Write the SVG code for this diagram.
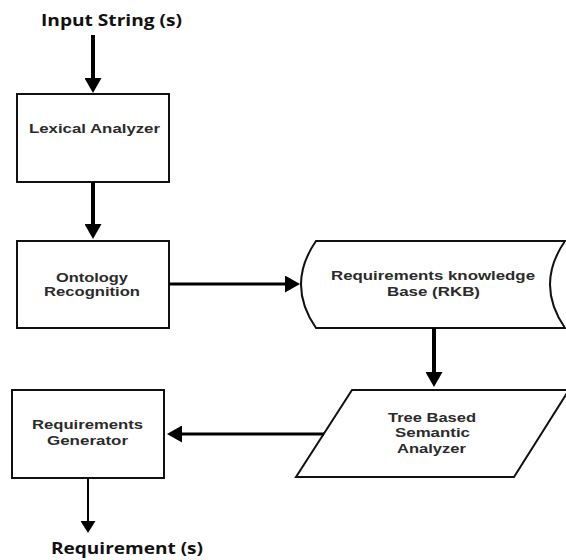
<svg xmlns="http://www.w3.org/2000/svg" width="566" height="560" viewBox="0 0 566 560">
  <style>
    .shape { fill: #ffffff; stroke: #111111; stroke-width: 2; }
    .label { font-family: "Liberation Sans", Arial, sans-serif; font-weight: bold; font-size: 13px; fill: #2b2b2b; }
    .io { font-family: "Open Sans", "Liberation Sans", sans-serif; font-weight: bold; font-size: 16px; fill: #111111; }
    .wire { fill: none; stroke: #000000; }
    .thick { stroke-width: 4; }
    .mid { stroke-width: 3; }
    .thin { stroke-width: 2; }
  </style>
  <defs>
    <marker id="head" viewBox="0 0 15 17" refX="1" refY="8.5" markerWidth="15" markerHeight="17" markerUnits="userSpaceOnUse" orient="auto">
      <path d="M0,0 L15,8.5 L0,17 Z" fill="#000000"/>
    </marker>
    <marker id="headSmall" viewBox="0 0 12 15" refX="1" refY="7.5" markerWidth="12" markerHeight="15" markerUnits="userSpaceOnUse" orient="auto">
      <path d="M0,0 L12,7.5 L0,15 Z" fill="#000000"/>
    </marker>
  </defs>

  <rect width="566" height="560" fill="#ffffff"/>

  <g id="input">
    <text class="io" x="41" y="26" textLength="141" lengthAdjust="spacingAndGlyphs">Input String (s)</text>
  </g>

  <g id="lexical">
    <rect class="shape" x="17" y="94" width="152" height="88"/>
    <text class="label" x="29" y="133" textLength="131" lengthAdjust="spacingAndGlyphs">Lexical Analyzer</text>
  </g>

  <g id="ontology">
    <rect class="shape" x="17" y="241" width="152" height="87"/>
    <text class="label" x="56" y="282" textLength="72" lengthAdjust="spacingAndGlyphs">Ontology</text>
    <text class="label" x="44" y="296" textLength="96" lengthAdjust="spacingAndGlyphs">Recognition</text>
  </g>

  <g id="rkb">
    <path class="shape" d="M316,241 H565 Q535,284.5 565,328 H316 Q286,284.5 316,241 Z"/>
    <text class="label" x="331" y="280" textLength="204" lengthAdjust="spacingAndGlyphs">Requirements knowledge</text>
    <text class="label" x="387" y="296" textLength="93" lengthAdjust="spacingAndGlyphs">Base (RKB)</text>
  </g>

  <g id="semantic">
    <path class="shape" d="M352,390 H569 L514,477 H296 Z"/>
    <text class="label" x="388" y="422" textLength="88" lengthAdjust="spacingAndGlyphs">Tree Based</text>
    <text class="label" x="395" y="437" textLength="75" lengthAdjust="spacingAndGlyphs">Semantic</text>
    <text class="label" x="397" y="453" textLength="69" lengthAdjust="spacingAndGlyphs">Analyzer</text>
  </g>

  <g id="generator">
    <rect class="shape" x="12" y="390" width="152" height="88"/>
    <text class="label" x="32" y="429" textLength="111" lengthAdjust="spacingAndGlyphs">Requirements</text>
    <text class="label" x="47" y="445" textLength="81" lengthAdjust="spacingAndGlyphs">Generator</text>
  </g>

  <g id="output">
    <text class="io" x="51" y="554" textLength="152" lengthAdjust="spacingAndGlyphs">Requirement (s)</text>
  </g>

  <g id="connectors">
    <path class="wire thick" d="M93,35 V79" marker-end="url(#head)"/>
    <path class="wire thick" d="M93,182 V225" marker-end="url(#head)"/>
    <path class="wire mid" d="M169,284 H286" marker-end="url(#head)"/>
    <path class="wire thick" d="M434,328 V373" marker-end="url(#head)"/>
    <path class="wire mid" d="M324,434 H181" marker-end="url(#head)"/>
    <path class="wire thin" d="M88,478 V522" marker-end="url(#headSmall)"/>
  </g>
</svg>
